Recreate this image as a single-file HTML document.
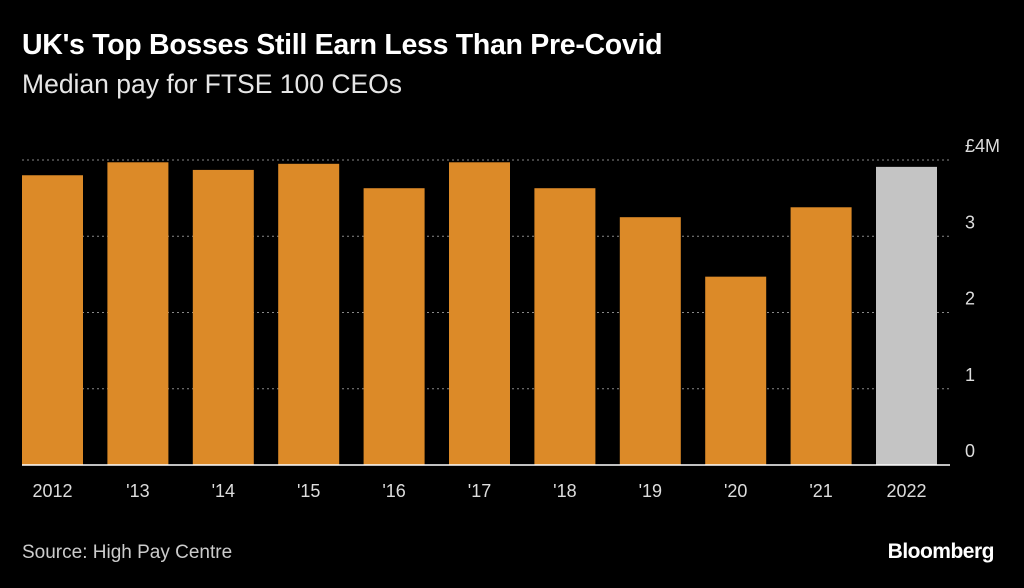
<!DOCTYPE html>
<html><head><meta charset="utf-8"><style>
body{margin:0;background:#000;width:1024px;height:588px;overflow:hidden;font-family:"Liberation Sans",sans-serif;color:#fff}
.t{position:absolute;left:22px;top:29px;font-size:28.5px;font-weight:bold;letter-spacing:-0.3px}
.s{position:absolute;left:22px;top:69px;font-size:26.5px;color:#e6e6e6}
.src{position:absolute;left:22px;top:542px;font-size:19px;color:#ccc}
.logo{position:absolute;right:30px;top:540px;font-size:21px;font-weight:bold;letter-spacing:-0.5px}
svg{position:absolute;left:0;top:0}
</style></head><body>
<div class="t">UK's Top Bosses Still Earn Less Than Pre-Covid</div>
<div class="s">Median pay for FTSE 100 CEOs</div>
<svg id="c" width="1024" height="588"></svg>
<div class="src">Source: High Pay Centre</div>
<div class="logo">Bloomberg</div>
<script>
const categories=["2012","'13","'14","'15","'16","'17","'18","'19","'20","'21","2022"];
const values=[3.80,3.97,3.87,3.95,3.63,3.97,3.63,3.25,2.47,3.38,3.91];
const ticks=[0,1,2,3,4];
const tickLabels=["0","1","2","3","£4M"];
const svg=document.getElementById('c');const NS="http://www.w3.org/2000/svg";
const y0=465,pxPer=76.25;const y=v=>y0-v*pxPer;
const x0=22,step=85.4,bw=61;const x=i=>x0+i*step;
function mk(t,a){const e=document.createElementNS(NS,t);for(const k in a)e.setAttribute(k,a[k]);svg.appendChild(e);return e;}
ticks.forEach((t,i)=>{
 if(t>0){const l=mk('line',{x1:22,x2:950,y1:y(t),y2:y(t),stroke:'#888','stroke-dasharray':'2,3','stroke-width':1});
 
 }
 const tx=mk('text',{x:965,y:y(t)-8,fill:'#ddd','font-size':18,'font-family':'Liberation Sans'});
 tx.textContent=tickLabels[i];
 
 
});
values.forEach((v,i)=>{
 const r=mk('rect',{x:x(i),y:y(v),width:bw,height:v*pxPer,fill:i==values.length-1?'#c4c4c4':'#dc8a28'});
 
 
 const tx=mk('text',{x:x(i)+bw/2,y:497,fill:'#ddd','font-size':18,'text-anchor':'middle','font-family':'Liberation Sans'});
 tx.textContent=categories[i];
 
 
});
const b=mk('line',{x1:22,x2:950,y1:y0,y2:y0,stroke:'#fff','stroke-width':1.5});


</script>
</body></html>
